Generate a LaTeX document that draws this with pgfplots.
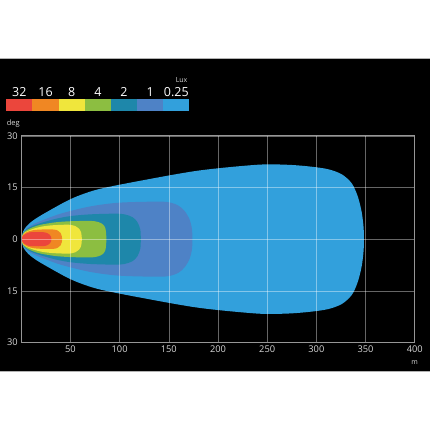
\documentclass[border=0pt]{standalone}
\usepackage{fontspec}
\setmainfont{Open Sans}
\usepackage{pgfplots}
\pgfplotsset{compat=1.18}
\definecolor{c32}{RGB}{235,70,60}
\definecolor{c16}{RGB}{240,135,35}
\definecolor{c8}{RGB}{240,230,60}
\definecolor{c4}{RGB}{140,190,65}
\definecolor{c2}{RGB}{30,135,170}
\definecolor{c1}{RGB}{78,130,198}
\definecolor{c025}{RGB}{50,160,220}
\definecolor{lbl}{RGB}{215,215,215}
\definecolor{axl}{RGB}{150,150,150}
\begin{document}
\begin{tikzpicture}[x=1pt,y=1pt]
\fill[white] (0,0) rectangle (430,430);
\fill[black] (0,58) rectangle (430,372);
\draw[gray!60, line width=0.6pt] (0,58) -- (430,58) (0,372) -- (430,372);
\begin{axis}[
  at={(21pt,87pt)}, anchor=south west,
  scale only axis, width=394pt, height=207pt,
  xmin=0, xmax=400, ymin=-30, ymax=30,
  xtick={50,100,...,400},
  ytick={-30,-15,0,15,30},
  yticklabels={30,15,0,15,30},
  grid=major,
  grid style={white, opacity=0.4, line width=0.5pt},
  axis line style={axl, line width=0.8pt},
  major tick length=0pt,
  tick label style={font=\fontsize{9.3}{10}\selectfont, text=lbl},
  /pgf/number format/assume math mode=true,
  axis on top,
]
\addplot[fill=c025, draw=none, smooth, tension=0.5] coordinates {
(0,0) (2,2.3) (5,3.6) (10,5.0) (20,6.9) (45,10.9) (60,12.8) (80,14.6) (120,16.9) (180,19.9) (240,21.6) (270,21.6) (293,21.1) (312,20.3) (326,18.8) (336,16.2) (342,12.5) (346,8) (348,3.5) (348.3,0)
(348,-3.5) (346,-8) (342,-12.5) (336,-16.2) (326,-18.8) (312,-20.3) (293,-21.1) (270,-21.6) (240,-21.6) (180,-19.9) (120,-16.9) (80,-14.6) (60,-12.8) (45,-10.9) (20,-6.9) (10,-5.0) (5,-3.6) (2,-2.3) (0,0)} -- cycle;
\addplot[fill=c1, draw=none, smooth, tension=0.5] coordinates {
(0,0) (2,1.9) (6,3.3) (12,4.3) (20,5.3) (40,7.4) (70,9.5) (100,10.6) (140,10.9) (152,10.6) (160,9.7) (166,8.2) (171,5.8) (173.5,3) (174,0)
(173.5,-3) (171,-5.8) (166,-8.2) (160,-9.7) (152,-10.6) (140,-10.9) (100,-10.6) (70,-9.5) (40,-7.4) (20,-5.3) (12,-4.3) (6,-3.3) (2,-1.9) (0,0)} -- cycle;
\addplot[fill=c2, draw=none, smooth, tension=0.5] coordinates {
(0,0) (2,1.8) (6,3.0) (12,3.9) (20,4.7) (35,5.9) (50,6.7) (70,7.2) (95,7.4) (105,7.2) (113,6.4) (118,5) (121,2.8) (121.5,0)
(121,-2.8) (118,-5) (113,-6.4) (105,-7.2) (95,-7.4) (70,-7.2) (50,-6.7) (35,-5.9) (20,-4.7) (12,-3.9) (6,-3.0) (2,-1.8) (0,0)} -- cycle;
\addplot[fill=c4, draw=none, smooth, tension=0.5] coordinates {
(0,0) (2,1.7) (6,2.7) (12,3.5) (20,4.2) (35,4.9) (50,5.2) (70,5.3) (78,5.0) (83,4.3) (85.5,3.2) (86.3,1.5) (86.5,0)
(86.3,-1.5) (85.5,-3.2) (83,-4.3) (78,-5.0) (70,-5.3) (50,-5.2) (35,-4.9) (20,-4.2) (12,-3.5) (6,-2.7) (2,-1.7) (0,0)} -- cycle;
\addplot[fill=c8, draw=none, smooth, tension=0.5] coordinates {
(0,0) (2,1.5) (6,2.3) (12,3.0) (20,3.6) (30,4.0) (45,4.2) (50,4.15) (55,3.8) (58.5,3.1) (60.8,2.0) (61.6,0)
(60.8,-2.0) (58.5,-3.1) (55,-3.8) (50,-4.15) (45,-4.2) (30,-4.0) (20,-3.6) (12,-3.0) (6,-2.3) (2,-1.5) (0,0)} -- cycle;
\addplot[fill=c16, draw=none, smooth, tension=0.5] coordinates {
(0,0) (2,1.3) (6,2.1) (12,2.6) (20,2.8) (33,2.8) (37,2.5) (40,1.8) (41.3,0.8) (41.5,0)
(41.3,-0.8) (40,-1.8) (37,-2.5) (33,-2.8) (20,-2.8) (12,-2.6) (6,-2.1) (2,-1.3) (0,0)} -- cycle;
\addplot[fill=c32, draw=none, smooth, tension=0.5] coordinates {
(0,0) (2,1.1) (5,1.6) (9,2.0) (20,2.05) (25,1.9) (28.5,1.4) (30.3,0.7) (30.6,0)
(30.3,-0.7) (28.5,-1.4) (25,-1.9) (20,-2.05) (9,-2.0) (5,-1.6) (2,-1.1) (0,0)} -- cycle;
\end{axis}
% legend
\foreach \c [count=\i from 0] in {c32,c16,c8,c4,c2,c1,c025} {
  \fill[\c] ({6+\i*26.2}, 319) rectangle ++(26.2,12.3);
}
\foreach \t [count=\i from 0] in {32,16,8,4,2,1,0.25} {
  \node[text=white, font=\fontsize{12.5}{13}\selectfont, inner sep=0pt] at ({19.1+\i*26.2}, 337.5) {\t};
}
\node[text=lbl, font=\fontsize{7}{8}\selectfont, inner sep=0pt] at (181.5, 349.5) {Lux};
\node[text=lbl, font=\fontsize{7.5}{8}\selectfont, inner sep=0pt] at (13, 306.5) {deg};
\node[text=lbl, font=\fontsize{7}{8}\selectfont, inner sep=0pt] at (415, 67) {m};
\end{tikzpicture}
\end{document}
